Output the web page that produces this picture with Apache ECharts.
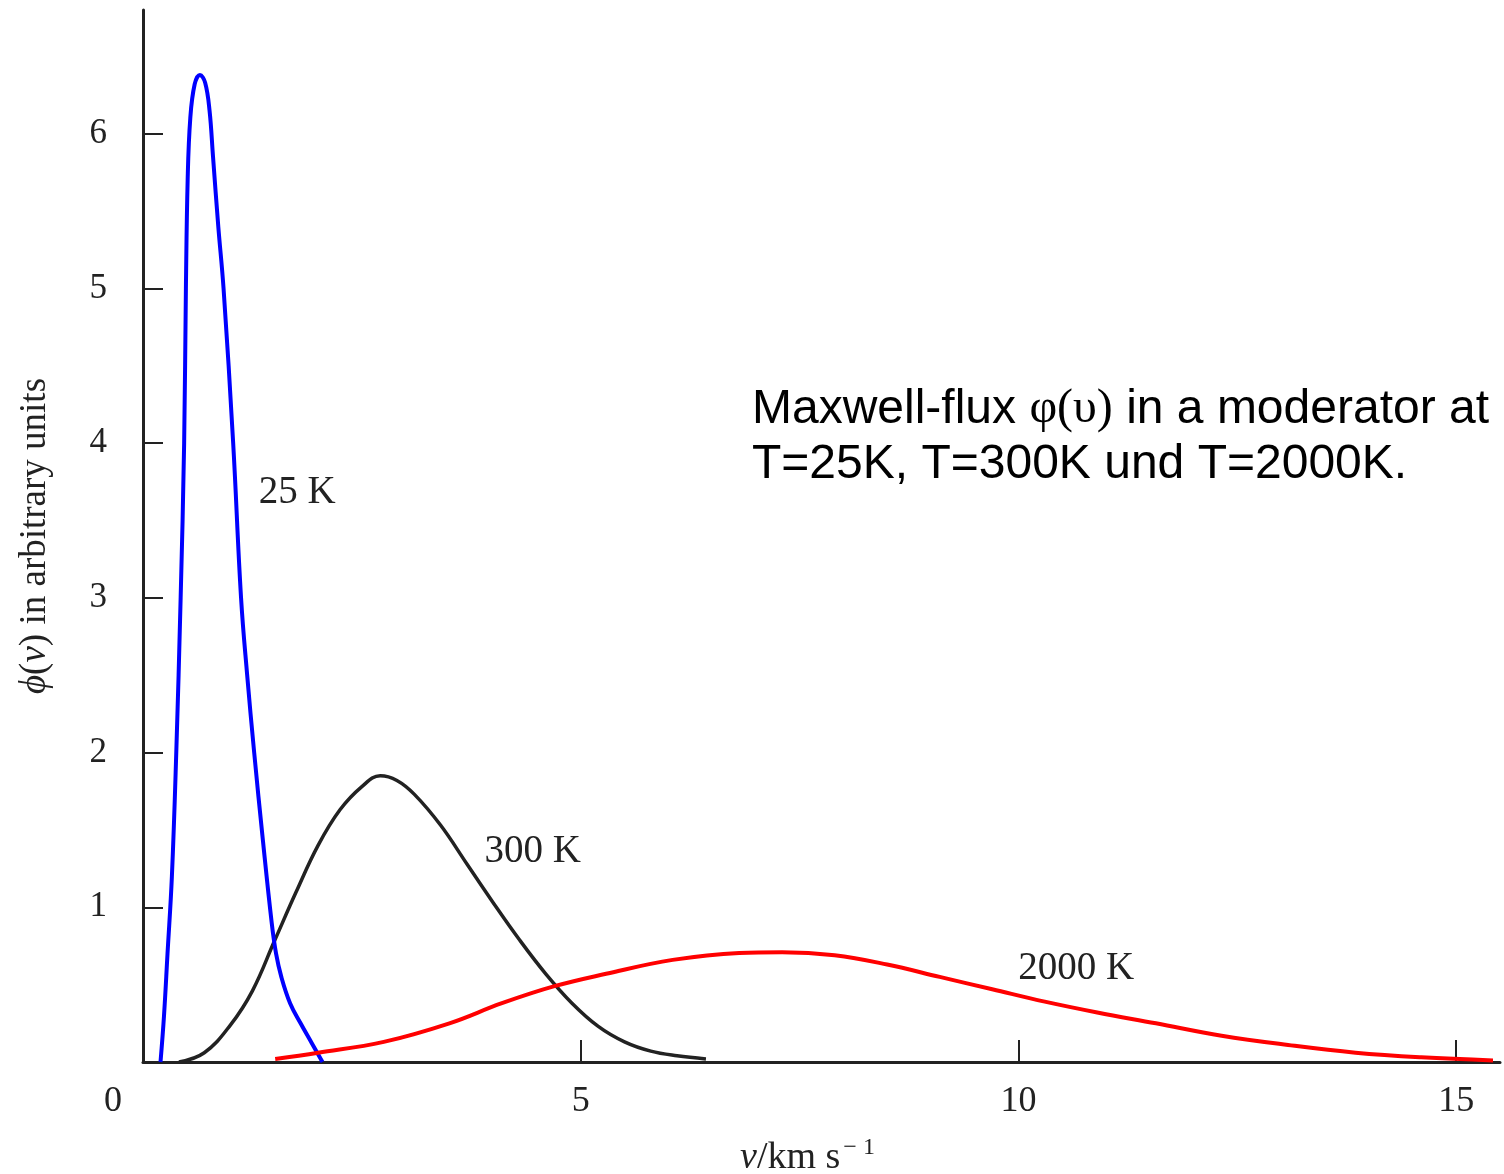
<!DOCTYPE html>
<html>
<head>
<meta charset="utf-8">
<script src="https://cdn.jsdelivr.net/npm/echarts@6/dist/echarts.min.js"></script>
<style>
html,body{margin:0;padding:0;background:#fff}
#chart{width:1504px;height:1174px}
</style>
</head>
<body>
<div id="chart"></div>
<script>
// [v in km/s, phi(v) in arbitrary units]
var flux25=[[0.20,0],[0.24,0.3],[0.28,0.7],[0.33,1.2],[0.38,2.0],[0.43,3.0],[0.47,4.0],[0.49,5.0],[0.51,5.7],[0.54,6.1],
    [0.59,6.32],[0.65,6.38],[0.71,6.33],[0.76,6.15],[0.80,5.85],[0.86,5.4],[0.92,5.0],[1.03,4.0],[1.12,3.0],[1.19,2.5],
    [1.27,2.0],[1.37,1.43],[1.47,0.9],[1.52,0.7],[1.58,0.55],[1.68,0.38],[1.80,0.25],[1.93,0.12],[2.05,0]];
var flux300=[[0.41,0],[0.70,0.06],[1.00,0.24],[1.25,0.46],[1.50,0.78],[1.75,1.10],[2.00,1.40],[2.25,1.63],[2.50,1.78],
    [2.71,1.85],[2.90,1.82],[3.10,1.73],[3.40,1.53],[3.70,1.28],[4.00,1.03],[4.30,0.79],[4.60,0.57],[4.90,0.38],
    [5.20,0.23],[5.50,0.13],[5.80,0.07],[6.10,0.04],[6.43,0.02]];
var flux2000=[[1.51,0.02],[2.00,0.06],[2.75,0.13],[3.50,0.25],[4.10,0.38],[4.70,0.49],[5.29,0.57],[6.05,0.66],[6.81,0.705],
    [7.30,0.71],[7.90,0.69],[8.50,0.63],[9.10,0.55],[9.70,0.47],[10.30,0.39],[10.90,0.32],[11.57,0.25],[12.32,0.17],
    [13.08,0.11],[13.85,0.06],[14.60,0.03],[15.42,0.01]];
var xTicks=[5,10,15];
var xLabels=[0,5,10,15];
var yTicks=[1,2,3,4,5,6];
var curveNames=['25 K','300 K','2000 K'];

var SERIF='Liberation Serif';
var INK='#222';

function curveLabel(name,coord){ //text next to a curve, placed in data coords
    return {symbol:'circle',symbolSize:0,silent:true,
        label:{show:true,position:'inside',formatter:name,color:INK,fontFamily:SERIF,fontSize:39},
        data:[{coord:coord}]};
}

var chart=echarts.init(document.getElementById('chart'));
chart.setOption({
    animation:false,
    backgroundColor:'#fff',
    grid:{left:143,right:4,top:10,bottom:112,outerBoundsMode:'none'},
    xAxis:{
        type:'value',min:0,max:15.5,
        name:'{i|v}/km s{s|− 1}',nameLocation:'middle',nameGap:74,
        nameTextStyle:{color:INK,fontFamily:SERIF,fontSize:38,padding:[0,28,0,0],
            rich:{i:{fontFamily:SERIF,fontSize:38,fontStyle:'italic',color:INK},
                  s:{fontFamily:SERIF,fontSize:24,color:INK,padding:[0,0,20,3]}}},
        axisLine:{show:true,lineStyle:{color:INK,width:3}},
        axisTick:{show:true,inside:true,length:22,customValues:xTicks,lineStyle:{color:INK,width:2}},
        axisLabel:{customValues:xLabels,margin:22,color:INK,fontFamily:SERIF,fontSize:36,
            formatter:function(v){return v===0?'{z|0}':''+v;},
            rich:{z:{fontFamily:SERIF,fontSize:36,color:INK,padding:[0,60,0,0]}}},
        splitLine:{show:false}
    },
    yAxis:{
        type:'value',min:0,max:6.8,
        name:'{i|ϕ}({i|v}) in arbitrary units',nameLocation:'middle',nameGap:89,
        nameTextStyle:{color:INK,fontFamily:SERIF,fontSize:37,
            rich:{i:{fontFamily:SERIF,fontSize:37,fontStyle:'italic',color:INK}}},
        axisLine:{show:true,lineStyle:{color:INK,width:3}},
        axisTick:{show:true,inside:true,length:20,customValues:yTicks,lineStyle:{color:INK,width:2}},
        axisLabel:{customValues:yTicks,margin:36,color:INK,fontFamily:SERIF,fontSize:35},
        splitLine:{show:false}
    },
    series:[
        {name:curveNames[1],type:'line',data:flux300,showSymbol:false,smooth:0.4,
            lineStyle:{color:INK,width:3.5},markPoint:curveLabel(curveNames[1],[4.45,1.36])},
        {name:curveNames[0],type:'line',data:flux25,showSymbol:false,smooth:0.4,
            lineStyle:{color:'#0000ff',width:4},markPoint:curveLabel(curveNames[0],[1.76,3.68])},
        {name:curveNames[2],type:'line',data:flux2000,showSymbol:false,smooth:0.4,
            lineStyle:{color:'#ff0000',width:4},markPoint:curveLabel(curveNames[2],[10.66,0.60])}
    ],
    graphic:[{
        type:'text',left:752,top:382,silent:true,
        style:{
            text:'Maxwell-flux {s|φ(υ)} in a moderator at\nT=25K, T=300K und T=2000K.',
            fill:'#000',fontFamily:'Liberation Sans',fontSize:48,lineHeight:55,
            rich:{s:{fontFamily:SERIF,fontSize:48,fill:'#000',lineHeight:55}}
        }
    }]
});
</script>
</body>
</html>
